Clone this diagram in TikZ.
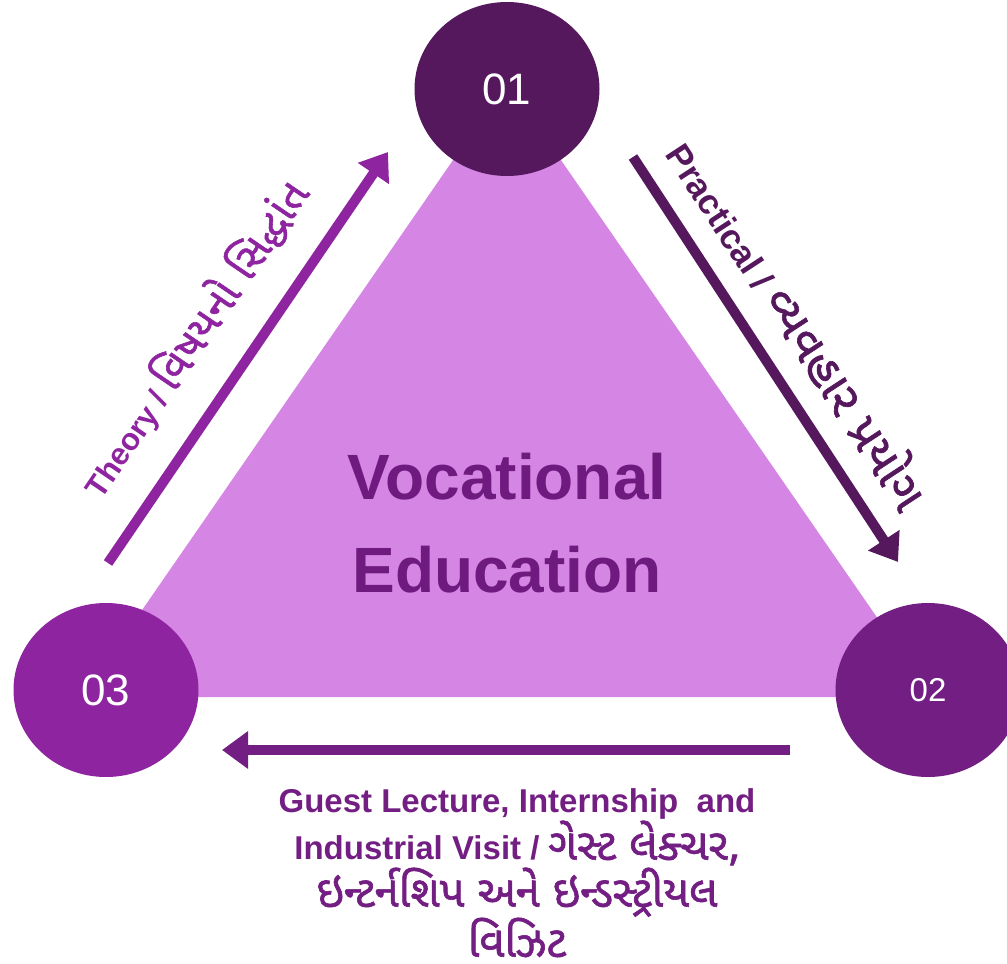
\documentclass[tikz,border=0pt]{standalone}
\usepackage{fontspec}
\setmainfont{Liberation Sans}
\newfontfamily\guj[Script=Gujarati, Scale=1.38, FakeBold=1.3]{Noto Sans Gujarati UI}
\newfontfamily\gujb[Script=Gujarati, Scale=1.32, FakeBold=1.4]{Noto Sans Gujarati UI}
\newcommand{\gj}[1]{{\mdseries\guj #1}}
\newcommand{\gjb}[1]{{\mdseries\gujb #1}}
\usetikzlibrary{arrows.meta,shapes.geometric}
\definecolor{tri}{HTML}{D585E3}
\definecolor{cone}{HTML}{55185D}
\definecolor{ctwo}{HTML}{731E82}
\definecolor{cthree}{HTML}{8E24A0}
\definecolor{title}{HTML}{6F1A7E}
\tikzset{
  numnode/.style={ellipse, minimum width=185pt, minimum height=174pt, inner sep=0pt, text=white},
  flowarrow/.style={line width=10pt, -{Triangle[length=26pt,width=36pt]}},
  lbl/.style={inner sep=0pt}
}
\begin{document}
\begin{tikzpicture}[x=1pt,y=-1pt]
\useasboundingbox (0,0) rectangle (1007,964);
% triangle
\fill[tri] (507,82) -- (82,697) -- (932,697) -- cycle;
% circles
\node[numnode, fill=cone, font=\fontsize{44}{50}\selectfont] (n1) at (507,89) {01};
\node[numnode, fill=ctwo, font=\fontsize{33}{40}\selectfont] (n2) at (928,690) {02};
\node[numnode, fill=cthree, font=\fontsize{44}{50}\selectfont] (n3) at (106,690) {03};
% title
\node[text=title, font=\bfseries\fontsize{64}{93}\selectfont, align=center] (title) at (507,523) {Vocational\\Education};
% arrows
\coordinate (a3s) at (108,563);
\coordinate (a3e) at (388,152);
\coordinate (a1s) at (633,157);
\coordinate (a1e) at (898,562);
\coordinate (a2s) at (790,750);
\coordinate (a2e) at (222,750);
\draw[flowarrow, cthree] (a3s) -- (a3e);
\draw[flowarrow, cone] (a1s) -- (a1e);
\draw[flowarrow, ctwo] (a2s) -- (a2e);
% labels
\node[lbl, text=cthree, rotate=55.7, font=\bfseries\fontsize{31}{37}\selectfont] (ltheory) at (193,338) {Theory / \gj{વિષયનો સિદ્ધાંત}};
\node[lbl, text=cone, rotate=-56.8, font=\bfseries\fontsize{35}{42}\selectfont] (lpract) at (800,323) {Practical / \gj{વ્યવહાર પ્રયોગ}};
\node[text=ctwo, font=\bfseries\fontsize{33}{47}\selectfont, align=center] (lbottom) at (517,873)
  {Guest Lecture, Internship\ \ and\\Industrial Visit / \gjb{ગેસ્ટ લેક્ચર,}\\\gjb{ઇન્ટર્નશિપ અને ઇન્ડસ્ટ્રીયલ}\\\gjb{વિઝિટ}};
\end{tikzpicture}
\end{document}
